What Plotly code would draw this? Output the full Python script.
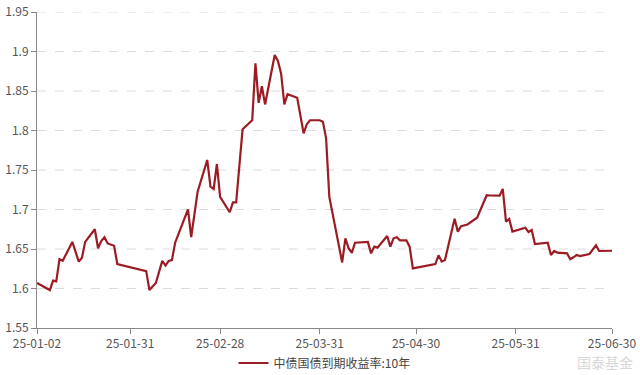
import plotly.graph_objects as go

dates = [
    "2025-01-02", "2025-01-06", "2025-01-07", "2025-01-08", "2025-01-09", "2025-01-10",
    "2025-01-13", "2025-01-15", "2025-01-16", "2025-01-17", "2025-01-20", "2025-01-21",
    "2025-01-22", "2025-01-23", "2025-01-24", "2025-01-26", "2025-01-27", "2025-02-05",
    "2025-02-06", "2025-02-07", "2025-02-08", "2025-02-10", "2025-02-11", "2025-02-12",
    "2025-02-13", "2025-02-14", "2025-02-18", "2025-02-19", "2025-02-21", "2025-02-24",
    "2025-02-25", "2025-02-26", "2025-02-27", "2025-02-28", "2025-03-03", "2025-03-04",
    "2025-03-05", "2025-03-07", "2025-03-10", "2025-03-11", "2025-03-12", "2025-03-13",
    "2025-03-14", "2025-03-17", "2025-03-18", "2025-03-19", "2025-03-20", "2025-03-21",
    "2025-03-24", "2025-03-26", "2025-03-27", "2025-03-28", "2025-03-31", "2025-04-01",
    "2025-04-02", "2025-04-03", "2025-04-07", "2025-04-08", "2025-04-09", "2025-04-10",
    "2025-04-11", "2025-04-15", "2025-04-16", "2025-04-17", "2025-04-18", "2025-04-21",
    "2025-04-22", "2025-04-23", "2025-04-24", "2025-04-25", "2025-04-27", "2025-04-28",
    "2025-04-29", "2025-05-06", "2025-05-07", "2025-05-08", "2025-05-09", "2025-05-12",
    "2025-05-13", "2025-05-14", "2025-05-15", "2025-05-16", "2025-05-19", "2025-05-22",
    "2025-05-23", "2025-05-26", "2025-05-27", "2025-05-28", "2025-05-29", "2025-05-30",
    "2025-06-03", "2025-06-04", "2025-06-05", "2025-06-06", "2025-06-10", "2025-06-11",
    "2025-06-12", "2025-06-13", "2025-06-16", "2025-06-17", "2025-06-18", "2025-06-19",
    "2025-06-20", "2025-06-23", "2025-06-25", "2025-06-26", "2025-06-30",
]
yields = [
    1.607, 1.598, 1.610, 1.609, 1.637, 1.635,
    1.659, 1.634, 1.639, 1.659, 1.675, 1.651,
    1.660, 1.665, 1.657, 1.654, 1.631, 1.622,
    1.598, 1.603, 1.607, 1.635, 1.629, 1.635,
    1.636, 1.658, 1.700, 1.665, 1.7225, 1.7627,
    1.729, 1.726, 1.7576, 1.716, 1.6965, 1.709,
    1.709, 1.8015, 1.813, 1.885, 1.835, 1.856,
    1.833, 1.8956, 1.888, 1.872, 1.833, 1.846,
    1.8415, 1.7965, 1.808, 1.813, 1.813, 1.811,
    1.790, 1.716, 1.633, 1.6635, 1.651, 1.645,
    1.658, 1.659, 1.6445, 1.653, 1.6517, 1.6665,
    1.653, 1.6635, 1.665, 1.661, 1.661, 1.653,
    1.6255, 1.631, 1.642, 1.634, 1.636, 1.6884,
    1.672, 1.679, 1.680, 1.681, 1.6896, 1.718,
    1.7177, 1.7175, 1.726, 1.6846, 1.688, 1.672,
    1.677, 1.6715, 1.674, 1.6563, 1.658, 1.6424,
    1.6475, 1.6453, 1.6445, 1.637, 1.6395, 1.6424,
    1.641, 1.6437, 1.6547, 1.6475, 1.6478,
]
series_name = "中债国债到期收益率:10年"
x_tick_vals = ["2025-01-02", "2025-01-31", "2025-02-28", "2025-03-31",
               "2025-04-30", "2025-05-31", "2025-06-30"]
x_tick_text = ["25-01-02", "25-01-31", "25-02-28", "25-03-31",
               "25-04-30", "25-05-31", "25-06-30"]
y_tick_vals = [1.55, 1.6, 1.65, 1.7, 1.75, 1.8, 1.85, 1.9, 1.95]
y_tick_text = ["1.55", "1.6", "1.65", "1.7", "1.75", "1.8", "1.85", "1.9", "1.95"]
watermark = "国泰基金"

font = "Noto Sans CJK SC, Noto Sans, sans-serif"

fig = go.Figure()
fig.add_trace(go.Scatter(
    x=dates, y=yields, mode="lines", name=series_name,
    line=dict(color="#9b1c24", width=2.2),
))

for v in y_tick_vals[1:]:
    fig.add_shape(type="line", xref="paper", x0=0, x1=1, yref="y", y0=v, y1=v,
                  line=dict(color="#dcdcdc", width=1, dash="dash"), layer="below")

fig.update_layout(
    width=640, height=375,
    margin=dict(l=37, r=28, t=12, b=47, autoexpand=False),
    paper_bgcolor="white", plot_bgcolor="white",
    font=dict(family=font, size=12, color="#555555"),
    showlegend=True,
    legend=dict(orientation="h", x=0.5, xanchor="center",
                yref="container", y=12 / 375, yanchor="middle",
                font=dict(size=12, color="#444444"), itemwidth=30),
    xaxis=dict(
        type="date", range=["2025-01-02", "2025-06-30"], automargin=False,
        tickmode="array", tickvals=x_tick_vals, ticktext=x_tick_text,
        showgrid=False, showline=True, linecolor="#888888", linewidth=1,
        ticks="outside", ticklen=5, tickcolor="#888888",
        tickfont=dict(size=12, color="#555555"), zeroline=False,
    ),
    yaxis=dict(
        range=[1.55, 1.95], automargin=False,
        tickmode="array", tickvals=y_tick_vals, ticktext=y_tick_text,
        showgrid=False, showline=True, linecolor="#888888", linewidth=1,
        ticks="outside", ticklen=5, tickcolor="#888888",
        tickfont=dict(size=12, color="#555555"), zeroline=False,
    ),
)

fig.add_annotation(
    text=watermark, xref="paper", yref="paper", x=1.04, y=-34 / 316,
    xanchor="right", yanchor="middle", showarrow=False,
    font=dict(size=14, color="#d8d8d8", family=font),
)

fig.write_html("out.html", config={"displayModeBar": False},
               post_script="document.body.style.margin='0';")
